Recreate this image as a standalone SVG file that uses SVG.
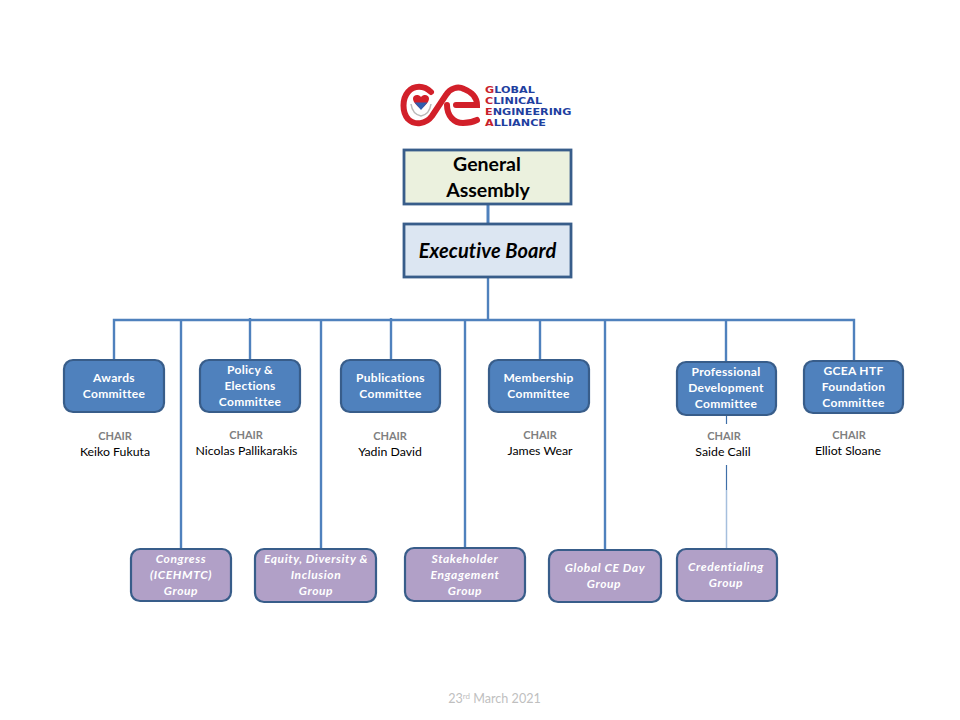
<svg xmlns="http://www.w3.org/2000/svg" width="960" height="720" viewBox="0 0 960 720">
<style>
text{font-family:"Lato","Open Sans","Liberation Sans",sans-serif;text-anchor:middle}
.conn{fill:none;stroke:#4f81bd;stroke-width:2.4}
.thin{fill:none;stroke:#3f6fa8;stroke-width:1.2}
.com{fill:#4f81bd;stroke:#385d8a;stroke-width:2.2}
.grp{fill:#b1a0c7;stroke:#385d8a;stroke-width:2.2}
.ct{fill:#fff;font-size:12px;font-weight:700;letter-spacing:.3px}
.gt{fill:#fff;font-size:12px;font-weight:700;font-style:italic;letter-spacing:.6px}
.ch{fill:#7f7f7f;font-size:11px;font-weight:700}
.nm{fill:#000;font-size:12.300px}
.logo{font-family:"DejaVu Sans",sans-serif;font-size:9.500px;font-weight:700;fill:#1f3f9f;text-anchor:start}
.logo tspan{fill:#c8202a}
.red{fill:none;stroke:#d2202a;stroke-width:6;stroke-linecap:round}
</style>
<rect width="960" height="720" fill="#fff"/>
<g id="logo">
<path class="red" d="M431 92C424 85 414 85 408 92C402 99 402 112 408 119C415 126 426 124 432 116L446 95C450 88 458 86 464 89C472 92 477 98 477 105H456"/>
<path class="red" d="M447 105C447 116 454 123 463 123C468 123 473 122 477 120"/>
<path d="M421 109C416 105 413 102 413 98.500C413 95 418 93.500 421 97C424 93.500 429 95 429 98.500C429 102 426 105 421 109Z" fill="#d2202a"/>
<path d="M414.500 102.500H427.500L421 110Z" fill="#2f5fb0"/>
<path d="M411 104C412 111 416 115 421 116C426 115 430 111 431 104" fill="none" stroke="#b9b9b9" stroke-width="1.500"/>
<text class="logo" transform="translate(485 92.500) scale(1.18 1)"><tspan>G</tspan>LOBAL</text>
<text class="logo" transform="translate(485 103.500) scale(1.18 1)"><tspan>C</tspan>LINICAL</text>
<text class="logo" transform="translate(485 114.500) scale(1.18 1)"><tspan>E</tspan>NGINEERING</text>
<text class="logo" transform="translate(485 125.500) scale(1.18 1)"><tspan>A</tspan>LLIANCE</text>
</g>
<g id="connectors">
<path class="conn" style="stroke-width:3" d="M488 204V224"/>
<path class="conn" d="M488 278V320"/>
<path class="conn" d="M114 360V320H854V361"/>
<path class="conn" d="M181 320V549"/>
<path class="conn" d="M250 318V360"/>
<path class="conn" d="M321 320V549"/>
<path class="conn" d="M391 318V360"/>
<path class="conn" d="M465 320V548"/>
<path class="conn" d="M540 320V360"/>
<path class="conn" d="M605 320V550"/>
<path class="conn" d="M726 320V362"/>
<path class="thin" d="M726.500 416V424"/>
<path class="thin" d="M726.500 465V490"/>
<path d="M726.500 490V549" fill="none" stroke="#a5bfdd" stroke-width="1.500"/>
</g>
<g id="general-assembly">
<rect x="404" y="150" width="167" height="54" fill="#ebf1de" stroke="#385d8a" stroke-width="2.800"/>
<text x="487" y="171" font-size="19.500" font-weight="700" fill="#000">General</text>
<text x="488" y="197" font-size="19.500" font-weight="700" fill="#000">Assembly</text>
</g>
<g id="executive-board">
<rect x="404" y="224" width="167" height="53" fill="#dce6f2" stroke="#385d8a" stroke-width="2.800"/>
<text x="487.500" y="258" font-size="20" font-weight="700" font-style="italic" letter-spacing=".1" fill="#000">Executive Board</text>
</g>
<g id="awards">
<rect class="com" x="64" y="360" width="100" height="52" rx="9"/>
<text class="ct" x="114" y="382">Awards</text><text class="ct" x="114" y="398">Committee</text>
<text class="ch" x="115" y="440">CHAIR</text><text class="nm" x="115" y="456">Keiko Fukuta</text>
</g>
<g id="policy">
<rect class="com" x="200" y="360" width="100" height="52" rx="9"/>
<text class="ct" x="250" y="374">Policy &amp;</text><text class="ct" x="250" y="390">Elections</text><text class="ct" x="250" y="406">Committee</text>
<text class="ch" x="246" y="439">CHAIR</text><text class="nm" x="246.500" y="455">Nicolas Pallikarakis</text>
</g>
<g id="publications">
<rect class="com" x="341" y="360" width="99" height="52" rx="9"/>
<text class="ct" x="390.500" y="382">Publications</text><text class="ct" x="390.500" y="398">Committee</text>
<text class="ch" x="390" y="440">CHAIR</text><text class="nm" x="390" y="456">Yadin David</text>
</g>
<g id="membership">
<rect class="com" x="489" y="360" width="100" height="52" rx="9"/>
<text class="ct" x="538.500" y="382">Membership</text><text class="ct" x="538.500" y="398">Committee</text>
<text class="ch" x="540" y="439">CHAIR</text><text class="nm" x="540" y="455">James Wear</text>
</g>
<g id="professional">
<rect class="com" x="677" y="362" width="99" height="53" rx="9"/>
<text class="ct" x="726" y="376">Professional</text><text class="ct" x="726" y="392">Development</text><text class="ct" x="726" y="408">Committee</text>
<text class="ch" x="724" y="440">CHAIR</text><text class="nm" x="723" y="456">Saide Calil</text>
</g>
<g id="foundation">
<rect class="com" x="804" y="361" width="99" height="52" rx="9"/>
<text class="ct" x="853.500" y="375">GCEA HTF</text><text class="ct" x="853.500" y="391">Foundation</text><text class="ct" x="853.500" y="407">Committee</text>
<text class="ch" x="849" y="439">CHAIR</text><text class="nm" x="848" y="455">Elliot Sloane</text>
</g>
<g id="congress">
<rect class="grp" x="131" y="549" width="100" height="52" rx="9"/>
<text class="gt" x="181" y="563">Congress</text><text class="gt" x="181" y="579">(ICEHMTC)</text><text class="gt" x="181" y="595">Group</text>
</g>
<g id="equity">
<rect class="grp" x="255" y="549" width="121" height="53" rx="9"/>
<text class="gt" x="316" y="563">Equity, Diversity &amp;</text><text class="gt" x="316" y="579">Inclusion</text><text class="gt" x="316" y="595">Group</text>
</g>
<g id="stakeholder">
<rect class="grp" x="405" y="548" width="120" height="53" rx="9"/>
<text class="gt" x="465" y="563">Stakeholder</text><text class="gt" x="465" y="579">Engagement</text><text class="gt" x="465" y="595">Group</text>
</g>
<g id="global-ce-day">
<rect class="grp" x="549" y="550" width="112" height="52" rx="9"/>
<text class="gt" x="605" y="572">Global CE Day</text><text class="gt" x="604" y="588">Group</text>
</g>
<g id="credentialing">
<rect class="grp" x="677" y="549" width="100" height="52" rx="9"/>
<text class="gt" x="726" y="571">Credentialing</text><text class="gt" x="726" y="587">Group</text>
</g>
<text x="494.500" y="703" font-size="12.600" fill="#bfbfbf">23<tspan font-size="8" dy="-4">rd</tspan><tspan dy="4"> March 2021</tspan></text>
</svg>
